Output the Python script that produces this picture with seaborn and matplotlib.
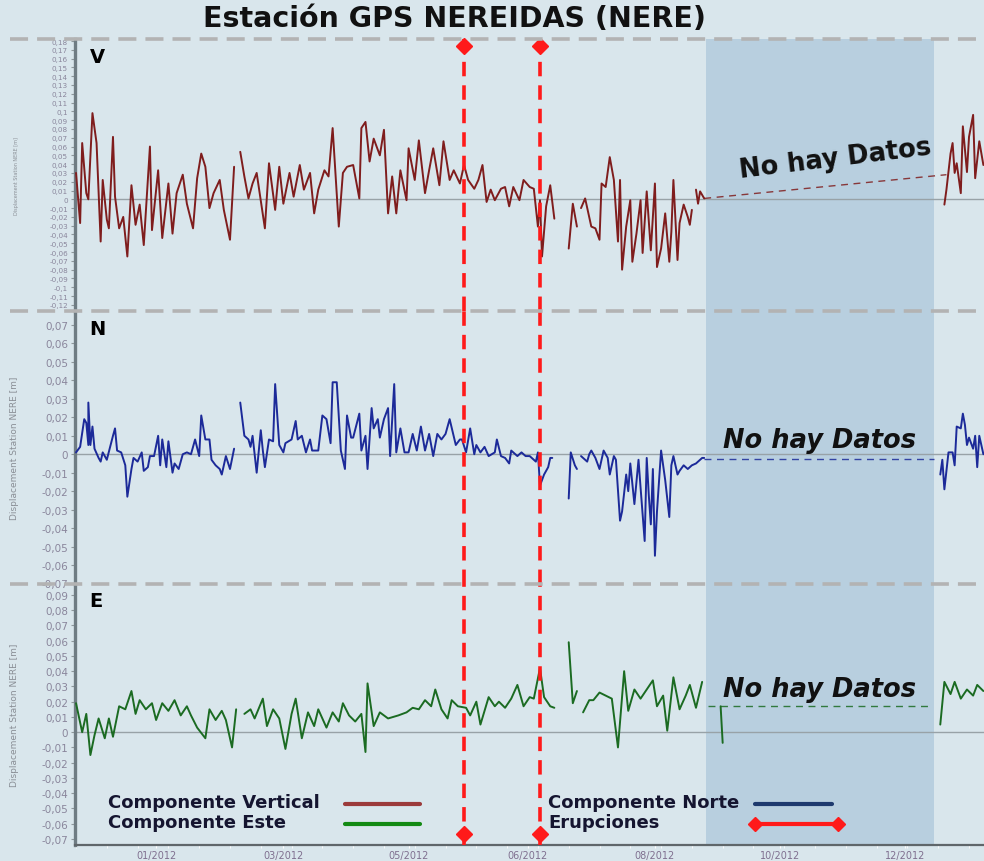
import numpy as np
import pandas as pd
import matplotlib.pyplot as plt
import seaborn as sns
from matplotlib.lines import Line2D
from matplotlib.ticker import FuncFormatter, MultipleLocator, FixedLocator

# Datos (dia desde el inicio de la serie, desplazamiento en m)
# NaN = hueco sin datos
v_dias = [0, 2, 3, 5, 6, 8, 10, 12, 13, 15, 16, 18, 19, 21, 23, 25, 27, 29, 31, 33, 36, 37, 40, 42, 45, 47,
          49, 52, 54, 57, 59, 61, 63, 65, 67, 70, 72, 75, 77, 79, 80, 82, 84, 86, 88, 92, 94, 97, 99, 101,
          104, 106, 109, 111, 114, 116, 118, 121, 123, 125, 128, 130, 132, 135, 138, 139, 141, 143, 145,
          148, 150, 152, 154, 156, 158, 161, 162, 165, 167, 170, 172, 174, 177, 179, 182, 184, 187, 189,
          191, 194, 196, 198, 200, 202, 204, 207, 209, 211, 213, 216, 218, 221, 223, 225, 226, 227, 229,
          231, 233, 235, 240, 242, 244, 245, 246, 248, 251, 253, 255, 256, 258, 260, 262, 264, 265, 266,
          268, 270, 271, 273, 275, 276, 278, 280, 282, 283, 285, 287, 289, 290, 291, 293, 294, 296, 298,
          299, 300, 301, 302, 303, 304, 306, 310, 423, 424, 426, 427, 428, 429, 431, 432, 434, 435, 437,
          438, 440, 442]
v_vals = [0.030, -0.027, 0.064, 0.007, 0.000, 0.098, 0.064, -0.048, 0.022, -0.023, -0.033, 0.071, 0.003,
          -0.033, -0.020, -0.065, 0.016, -0.029, -0.006, -0.052, 0.060, -0.035, 0.033, -0.044, 0.018,
          -0.039, 0.007, 0.028, -0.005, -0.033, 0.024, 0.052, 0.037, -0.010, 0.007, 0.022, -0.012, -0.046,
          0.037, np.nan, 0.054, 0.026, 0.001, 0.018, 0.030, -0.033, 0.041, -0.012, 0.037, -0.005, 0.030,
          0.003, 0.039, 0.011, 0.030, -0.016, 0.011, 0.033, 0.026, 0.081, -0.031, 0.030, 0.037, 0.039,
          0.001, 0.081, 0.088, 0.043, 0.069, 0.050, 0.079, -0.016, 0.026, -0.016, 0.033, -0.001, 0.058,
          0.022, 0.067, 0.007, 0.033, 0.058, 0.016, 0.066, 0.022, 0.033, 0.018, 0.039, 0.022, 0.012, 0.022,
          0.039, -0.003, 0.011, -0.001, 0.012, 0.014, -0.008, 0.014, -0.001, 0.022, 0.014, 0.012, -0.031,
          -0.001, -0.065, -0.008, 0.016, -0.022, np.nan, -0.056, -0.005, -0.031, np.nan, -0.010, 0.001,
          -0.031, -0.033, -0.046, 0.018, 0.014, 0.048, 0.022, -0.048, 0.022, -0.080, -0.031, -0.001,
          -0.071, -0.039, -0.001, -0.061, 0.009, -0.058, 0.018, -0.077, -0.056, -0.016, -0.071, -0.037,
          0.022, -0.069, -0.027, -0.006, -0.020, -0.029, -0.012, np.nan, 0.011, -0.005, 0.009, 0.001,
          np.nan, -0.006, 0.011, 0.052, 0.064, 0.030, 0.041, 0.007, 0.083, 0.031, 0.071, 0.096, 0.024,
          0.066, 0.039]

n_dias = [0, 2, 4, 5, 6, 6, 7, 8, 9, 11, 12, 13, 15, 18, 19, 20, 22, 24, 25, 27, 28, 30, 32, 33, 35, 36,
          38, 40, 41, 42, 44, 45, 47, 48, 50, 52, 54, 56, 58, 60, 61, 63, 65, 66, 68, 70, 71, 73, 75, 77,
          78, 80, 82, 84, 85, 86, 88, 90, 91, 92, 94, 96, 97, 99, 101, 102, 105, 107, 108, 110, 112, 114,
          115, 118, 120, 122, 124, 125, 127, 129, 131, 132, 134, 135, 138, 139, 141, 142, 144, 145, 147,
          148, 150, 152, 153, 155, 156, 158, 160, 162, 164, 166, 168, 170, 172, 174, 176, 178, 180, 182,
          185, 187, 188, 190, 192, 194, 195, 197, 199, 201, 204, 205, 207, 209, 211, 212, 215, 217, 219,
          221, 224, 225, 226, 228, 230, 231, 232, 235, 240, 241, 243, 244, 245, 246, 249, 250, 251, 253,
          255, 257, 259, 260, 262, 263, 265, 266, 268, 269, 270, 272, 274, 275, 277, 278, 279, 280, 281,
          282, 283, 285, 287, 289, 290, 291, 293, 294, 296, 298, 300, 302, 305, 306, 310, 421, 422, 423,
          425, 427, 428, 429, 431, 432, 433, 434, 435, 437, 438, 439, 440, 442]
n_vals = [0.001, 0.004, 0.019, 0.017, 0.005, 0.028, 0.005, 0.015, 0.003, -0.002, -0.004, 0.001, -0.003,
          0.010, 0.014, 0.002, 0.001, -0.006, -0.023, -0.008, -0.002, -0.004, 0.001, -0.009, -0.007,
          -0.001, -0.001, 0.010, -0.006, 0.008, -0.007, 0.007, -0.010, -0.005, -0.008, 0.000, 0.001,
          0.000, 0.008, -0.001, 0.021, 0.008, 0.008, -0.003, -0.006, -0.008, -0.011, -0.001, -0.008,
          0.003, np.nan, 0.028, 0.010, 0.008, 0.004, 0.010, -0.010, 0.013, 0.002, -0.007, 0.008, 0.007,
          0.038, 0.005, 0.001, 0.006, 0.008, 0.018, 0.008, 0.010, 0.001, 0.008, 0.002, 0.002, 0.021,
          0.019, 0.006, 0.039, 0.039, 0.002, -0.008, 0.021, 0.009, 0.009, 0.022, 0.002, 0.010, -0.008,
          0.025, 0.014, 0.019, 0.009, 0.019, 0.025, -0.001, 0.038, 0.001, 0.014, 0.001, 0.001, 0.011,
          0.002, 0.015, 0.002, 0.011, -0.001, 0.011, 0.008, 0.011, 0.019, 0.005, 0.008, 0.008, 0.001,
          0.014, 0.000, 0.005, 0.001, 0.004, -0.001, 0.001, 0.008, -0.001, -0.002, -0.005, 0.002, -0.001,
          0.001, -0.001, -0.001, -0.004, 0.001, -0.017, -0.011, -0.007, -0.002, -0.002, np.nan, -0.024,
          0.001, -0.006, -0.008, np.nan, -0.001, -0.004, 0.000, 0.002, -0.002, -0.008, 0.002, -0.002,
          -0.011, -0.001, -0.003, -0.036, -0.031, -0.011, -0.020, -0.005, -0.027, -0.003, -0.018, -0.047,
          -0.002, -0.022, -0.038, -0.008, -0.055, -0.031, 0.002, -0.014, -0.034, -0.006, -0.001, -0.011,
          -0.009, -0.006, -0.008, -0.006, -0.005, -0.002, -0.002, np.nan, -0.011, -0.003, -0.019, 0.001,
          0.001, -0.006, 0.015, 0.014, 0.022, 0.016, 0.005, 0.009, 0.003, 0.010, -0.007, 0.010, 0.000]

e_dias = [0, 3, 5, 7, 9, 11, 14, 16, 18, 21, 24, 27, 29, 31, 34, 37, 39, 42, 45, 48, 51, 54, 56, 59, 63,
          65, 68, 71, 73, 76, 78, 80, 82, 85, 87, 91, 93, 96, 99, 102, 105, 107, 110, 113, 116, 118, 122,
          125, 128, 130, 133, 136, 139, 141, 142, 145, 148, 152, 157, 161, 164, 167, 170, 173, 175, 178,
          181, 183, 186, 190, 192, 195, 197, 201, 204, 206, 209, 212, 215, 218, 221, 223, 226, 228, 231,
          233, 236, 240, 242, 244, 245, 247, 250, 252, 255, 258, 261, 264, 267, 269, 272, 275, 278, 281,
          283, 286, 288, 291, 294, 297, 299, 302, 305, 307, 314, 315, 317, 421, 423, 426, 428, 431, 434,
          437, 439, 442]
e_vals = [0.019, 0.000, 0.012, -0.015, -0.002, 0.009, -0.004, 0.009, -0.003, 0.017, 0.015, 0.027, 0.012,
          0.021, 0.015, 0.019, 0.008, 0.019, 0.014, 0.021, 0.011, 0.017, 0.011, 0.003, -0.004, 0.015,
          0.008, 0.014, 0.008, -0.010, 0.015, np.nan, 0.012, 0.015, 0.009, 0.022, 0.004, 0.015, 0.009,
          -0.011, 0.012, 0.022, -0.004, 0.013, 0.004, 0.015, 0.003, 0.013, 0.007, 0.019, 0.011, 0.007,
          0.012, -0.013, 0.032, 0.004, 0.013, 0.009, 0.011, 0.013, 0.016, 0.015, 0.021, 0.017, 0.028,
          0.015, 0.009, 0.021, 0.017, 0.016, 0.011, 0.020, 0.005, 0.023, 0.017, 0.020, 0.016, 0.022,
          0.031, 0.017, 0.023, 0.022, 0.042, 0.023, 0.017, 0.016, np.nan, 0.059, 0.019, 0.027, np.nan,
          0.013, 0.021, 0.021, 0.026, 0.024, 0.022, -0.010, 0.040, 0.014, 0.028, 0.022, 0.028, 0.034,
          0.017, 0.024, 0.001, 0.036, 0.015, 0.024, 0.031, 0.016, 0.033, np.nan, 0.017, -0.007, np.nan,
          0.005, 0.033, 0.025, 0.033, 0.022, 0.028, 0.024, 0.031, 0.027]

# tramos sin datos (linea discontinua)
v_hueco_dias, v_hueco_vals = [306, 424], [0.001, 0.028]
n_hueco_dias, n_hueco_vals = [306, 418], [-0.0025, -0.0025]
e_hueco_dias, e_hueco_vals = [308, 416], [0.017, 0.017]

erupciones = [189, 226]
periodo_sin_datos = [307, 418]
meses_pos = [39, 101, 162, 220, 282, 343, 404]
meses_txt = ['01/2012', '03/2012', '05/2012', '06/2012', '08/2012', '10/2012', '12/2012']

fondo = '#d9e6ec'
sns.set_style('white', {'axes.facecolor': fondo, 'figure.facecolor': fondo})
plt.rcParams['font.family'] = ['DejaVu Sans']

fig = plt.figure(figsize=(9.84, 8.62), dpi=100)
W, H = 984, 862
izq = 75 / W
ax_v = fig.add_axes([izq, 1 - 312 / H, 1 - izq, 272 / H])
ax_n = fig.add_axes([izq, 1 - 585 / H, 1 - izq, 273 / H], sharex=ax_v)
ax_e = fig.add_axes([izq, 1 - 846 / H, 1 - izq, 261 / H], sharex=ax_v)


def tramos(dias, vals):
    df = pd.DataFrame({'dia': dias, 'desp': vals})
    df['seg'] = df['desp'].isna().cumsum()
    return df.dropna()


def coma(v, pos):
    s = f'{v:.2f}'.rstrip('0').rstrip('.')
    if s in ('-0', ''):
        s = '0'
    return s.replace('.', ',')


paneles = [
    (ax_v, v_dias, v_vals, v_hueco_dias, v_hueco_vals, '#7f1d1d', 'V', (-0.127, 0.1823), 5.2),
    (ax_n, n_dias, n_vals, n_hueco_dias, n_hueco_vals, '#1c2a99', 'N', (-0.0703, 0.0776), 7.5),
    (ax_e, e_dias, e_vals, e_hueco_dias, e_hueco_vals, '#1b6b22', 'E', (-0.0740, 0.0972), 7.5),
]

for ax, dias, vals, hd, hv, color, letra, lim, fs in paneles:
    ax.axvspan(*periodo_sin_datos, color='#b8cfdf', lw=0, zorder=0)
    ax.axhline(0, color='#98a2a7', lw=1, zorder=1)
    sns.lineplot(data=tramos(dias, vals), x='dia', y='desp', units='seg', estimator=None,
                 sort=False, color=color, lw=1.4, ax=ax, legend=False, zorder=3)
    ax.plot(hd, hv, color=color, lw=1, ls=(0, (5, 4)), alpha=0.85, zorder=3)
    for d in erupciones:
        ax.axvline(d, color='#ff1a1a', lw=2.6, ls=(0, (4, 2.5)), zorder=4)
    ax.set_ylim(*lim)
    ax.set_xlim(-0.5, 442.3)
    ax.yaxis.set_major_locator(MultipleLocator(0.01))
    ax.yaxis.set_major_formatter(FuncFormatter(coma))
    ax.tick_params(axis='y', labelsize=fs, labelcolor='#8a869c', color='#8f989c',
                   length=3, width=0.8, left=True, pad=2)
    ax.set_ylabel('Displacement Station NERE [m]', fontsize=6.5 if letra != 'V' else 3.5,
                  color='#8a8f96')
    ax.yaxis.set_label_coords(-0.062, 0.5)
    for lado in ['top', 'right', 'bottom']:
        ax.spines[lado].set_visible(False)
    ax.spines['left'].set_color('#6f7c83')
    ax.spines['left'].set_linewidth(2.4)
    ax.text(0.016, 0.935, letra, transform=ax.transAxes, fontsize=14, weight='bold',
            color='black', ha='left', va='center')
    ax.set_xlabel('')

# rombos de erupciones en los extremos
for d in erupciones:
    ax_v.plot(d, 0.1743, 'D', color='#ff1a1a', ms=8, clip_on=False, zorder=5)
    ax_e.plot(d, -0.0667, 'D', color='#ff1a1a', ms=8, clip_on=False, zorder=5)

# textos "No hay Datos"
ax_v.text(370, 0.047, 'No hay Datos', fontsize=18.5, weight='bold', rotation=7,
          ha='center', va='center', color='#111111', zorder=6)
ax_n.text(362, 0.0075, 'No hay Datos', fontsize=18.5, weight='bold', style='italic',
          ha='center', va='center', color='#111111', zorder=6)
ax_e.text(362, 0.028, 'No hay Datos', fontsize=18.5, weight='bold', style='italic',
          ha='center', va='center', color='#111111', zorder=6)

# eje x
for ax in (ax_v, ax_n):
    ax.tick_params(axis='x', bottom=False, labelbottom=False)
ax_e.xaxis.set_major_locator(FixedLocator(meses_pos))
ax_e.set_xticklabels(meses_txt)
ax_e.xaxis.set_minor_locator(MultipleLocator(15))
ax_e.tick_params(axis='x', which='major', labelsize=7, labelcolor='#7f6f8f', color='white',
                 length=2, bottom=True, pad=1.5)
ax_e.tick_params(axis='x', which='minor', color='white', length=2, bottom=True)
ax_e.spines['bottom'].set_visible(True)
ax_e.spines['bottom'].set_color('#5f666a')
ax_e.spines['bottom'].set_linewidth(1.6)

# separadores discontinuos entre paneles
for yp in [40, 312, 585]:
    fig.add_artist(Line2D([0.01, 1.0], [1 - yp / H] * 2, transform=fig.transFigure,
                          color='#b3b3b3', lw=2.6, ls=(0, (5, 2.5)), zorder=10))

# titulo
fig.text(0.462, 0.978, 'Estación GPS NEREIDAS (NERE)', ha='center', va='center',
         fontsize=20.5, weight='bold', color='#111111')

# leyenda
leyenda = [
    ('Componente Vertical', 108, 803, 345, 420, '#9c3b3b', None),
    ('Componente Este', 108, 823, 345, 420, '#138a13', None),
    ('Componente Norte', 548, 803, 755, 832, '#1e3a6e', None),
    ('Erupciones', 548, 823, 755, 838, '#ff1a1a', 'D'),
]
for txt, xt, yt, x0, x1, col, mk in leyenda:
    fig.text(xt / W, 1 - yt / H, txt, fontsize=13, weight='bold', color='#151530',
             ha='left', va='center')
    fig.add_artist(Line2D([x0 / W, x1 / W], [1 - (yt + 2) / H] * 2, transform=fig.transFigure,
                          color=col, lw=3, marker=mk, ms=7))

fig.savefig('out.png', dpi=100, facecolor=fondo)
